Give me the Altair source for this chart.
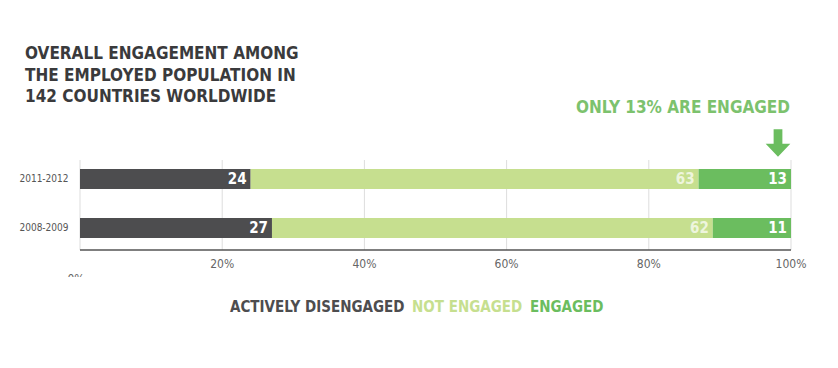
import altair as alt
import pandas as pd

periods = ["2011-2012", "2008-2009"]
categories = ["Actively disengaged", "Not engaged", "Engaged"]
disengaged = [24, 27]
not_engaged = [63, 62]
engaged = [13, 11]
colors = ["#4d4d4f", "#c6df8f", "#6bbd5f"]
tick_values = [0, 20, 40, 60, 80, 100]
tick_labels = ["0%", "20%", "40%", "60%", "80%", "100%"]
title_lines = ["OVERALL ENGAGEMENT AMONG", "THE EMPLOYED POPULATION IN", "142 COUNTRIES WORLDWIDE"]
legend_labels = ["ACTIVELY DISENGAGED", "NOT ENGAGED", "ENGAGED"]
annotation = "ONLY 13% ARE ENGAGED"

FONT = "Liberation Sans Narrow, DejaVu Sans Condensed, sans-serif"

rows = []
for i, p in enumerate(periods):
    vals = [disengaged[i], not_engaged[i], engaged[i]]
    start = 0
    for j, c in enumerate(categories):
        rows.append({"period": p, "category": c, "value": vals[j],
                     "start": start, "end": start + vals[j], "cidx": j})
        start += vals[j]
df = pd.DataFrame(rows)

ticks = pd.DataFrame({"v": tick_values, "label": tick_labels})

XS = alt.Scale(domain=[0, 100], nice=False, zero=False)
y = alt.Y("period:N", sort=periods,
          scale=alt.Scale(range=[136.5, 254.5], paddingInner=0.592, paddingOuter=0.5),
          axis=alt.Axis(title=None, domain=False, ticks=False, labelFont=FONT,
                        labelFontSize=10, labelColor="#555555", labelPadding=12))

grid = alt.Chart(ticks).mark_rule(color="#dddddd", strokeWidth=1).encode(
    x=alt.X("v:Q", scale=XS, axis=None),
    y=alt.value(152), y2=alt.value(242))

bars = alt.Chart(df).mark_bar().encode(
    x=alt.X("start:Q", scale=XS, axis=None), x2="end:Q", y=y,
    color=alt.Color("category:N", scale=alt.Scale(domain=categories, range=colors), legend=None))

labels_dark = alt.Chart(df[df.cidx != 1]).mark_text(
    align="right", dx=-4, font=FONT, fontSize=15, fontWeight="bold", color="white").encode(
    x=alt.X("end:Q", scale=XS, axis=None),
    y=alt.Y("period:N", sort=periods), text="value:Q")

labels_light = alt.Chart(df[df.cidx == 1]).mark_text(
    align="right", dx=-4, font=FONT, fontSize=15, fontWeight="bold", color="white",
    opacity=0.7).encode(
    x=alt.X("end:Q", scale=XS, axis=None),
    y=alt.Y("period:N", sort=periods), text="value:Q")

axis_line = alt.Chart(pd.DataFrame({"a": [0], "b": [100]})).mark_rule(
    color="#555555", strokeWidth=1.5).encode(
    x=alt.X("a:Q", scale=XS, axis=None), x2="b:Q", y=alt.value(242))

tick_text = alt.Chart(ticks[ticks.v > 0]).mark_text(
    font=FONT, fontSize=12, color="#666666", baseline="middle").encode(
    x=alt.X("v:Q", scale=XS, axis=None), y=alt.value(256), text="label:N")

zero_text = alt.Chart(ticks[ticks.v == 0]).mark_text(
    font=FONT, fontSize=12, color="#666666", baseline="middle", dx=-4).encode(
    x=alt.X("v:Q", scale=XS, axis=None), y=alt.value(271), text="label:N")

zero_mask = alt.Chart(pd.DataFrame({"a": [0]})).mark_rect(color="white").encode(
    x=alt.value(-30), x2=alt.value(20), y=alt.value(269), y2=alt.value(290))

title = alt.Chart(pd.DataFrame({"t": ["\n".join(title_lines)]})).mark_text(
    align="left", baseline="top", font=FONT, fontSize=17, fontWeight="bold",
    lineBreak="\n", lineHeight=21.5, color="#3a3a3c").encode(
    x=alt.value(-55), y=alt.value(38), text="t:N")

annot = alt.Chart(pd.DataFrame({"t": [annotation]})).mark_text(
    align="right", baseline="middle", font=FONT, fontSize=17, fontWeight="bold",
    color="#7cc26d").encode(x=alt.value(710), y=alt.value(100), text="t:N")

arrow_path = "M -0.32 -1 L 0.32 -1 L 0.32 0.05 L 0.9 0.05 L 0 1 L -0.9 0.05 L -0.32 0.05 Z"
arrow = alt.Chart(pd.DataFrame({"a": [0]})).mark_point(
    shape=arrow_path, filled=True, color="#6bbd5f", opacity=1, size=750).encode(
    x=alt.value(698), y=alt.value(135))

legend_layers = []
for lbl, col, px in zip(legend_labels, colors, [150, 332, 450]):
    legend_layers.append(alt.Chart(pd.DataFrame({"t": [lbl]})).mark_text(
        align="left", baseline="middle", font=FONT, fontSize=15, fontWeight="bold",
        color=col).encode(x=alt.value(px), y=alt.value(299), text="t:N"))

chart = alt.layer(grid, bars, labels_dark, labels_light, axis_line, tick_text, zero_text,
                  zero_mask, title, annot, arrow, *legend_layers).properties(
    width=711, height=340,
    background="white",
    autosize=alt.AutoSizeParams(type="none"),
    padding={"left": 72, "top": 0, "right": 39, "bottom": 12},
).configure_view(strokeWidth=0, stroke="transparent")

chart.save("out.html", embed_options={"renderer": "svg", "actions": False})
